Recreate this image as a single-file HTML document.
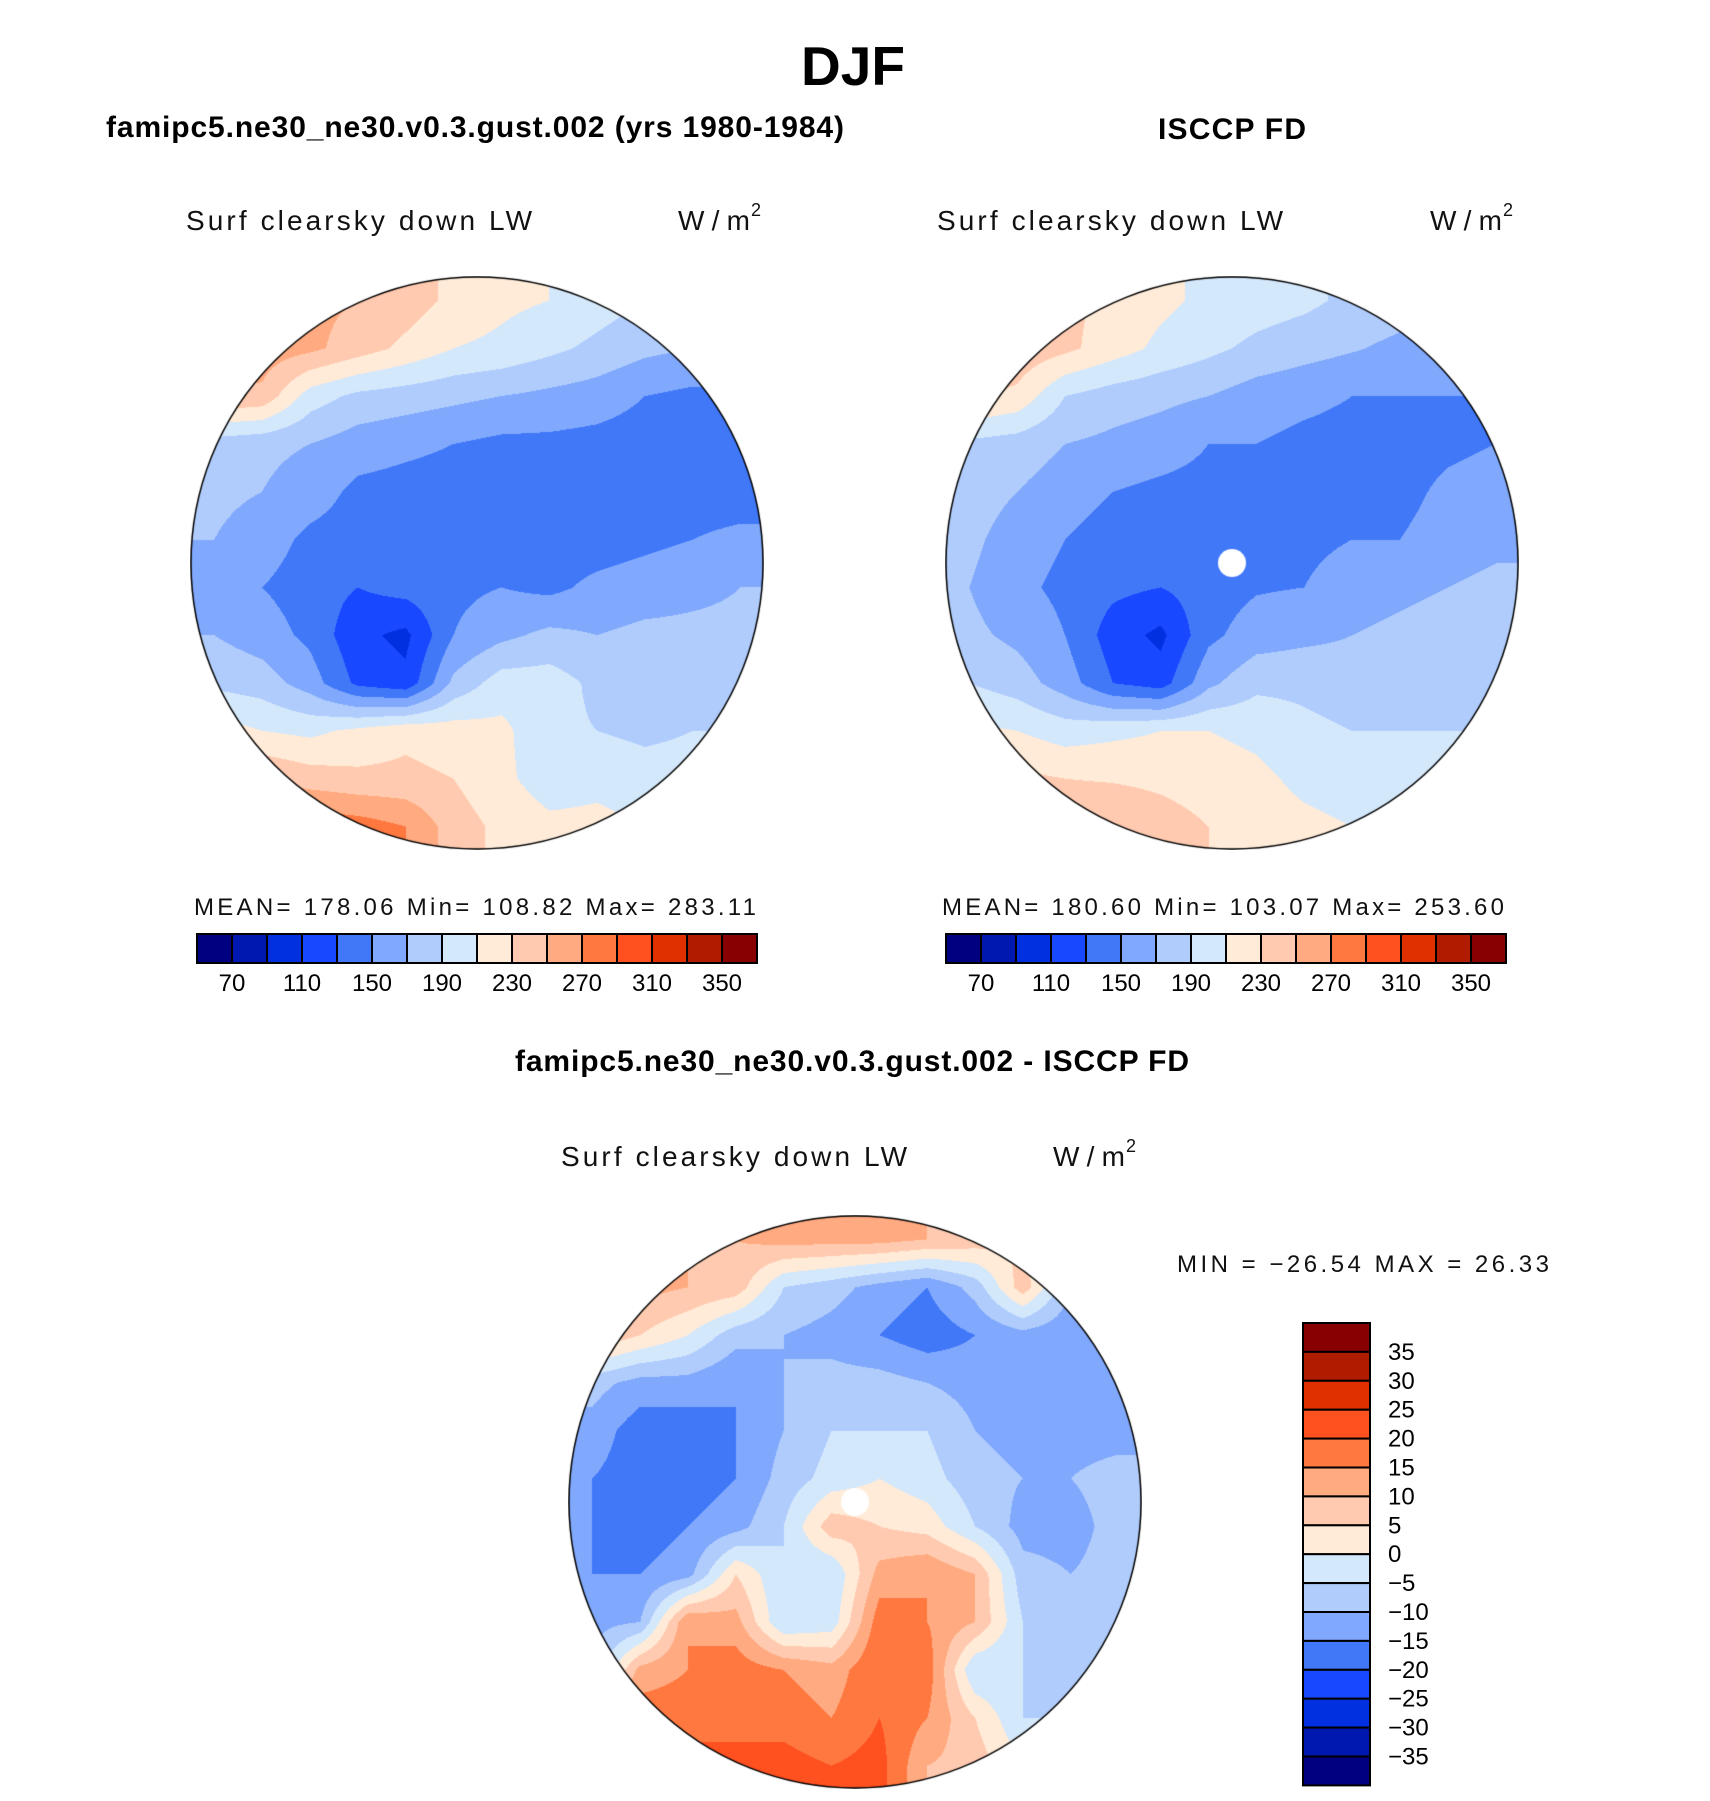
<!DOCTYPE html>
<html><head><meta charset="utf-8"><style>
html,body{margin:0;padding:0;background:#fff;}
#page{position:relative;width:1710px;height:1801px;overflow:hidden;}
canvas{position:absolute;}
svg{position:absolute;left:0;top:0;}
</style></head><body>
<div id="page">
<canvas id="mapL" width="574" height="574" style="left:190px;top:276px"></canvas>
<canvas id="mapR" width="574" height="574" style="left:945px;top:276px"></canvas>
<canvas id="mapD" width="574" height="574" style="left:568px;top:1215px"></canvas>
<svg id="ov" width="1710" height="1801" font-family="Liberation Sans, sans-serif">
<text x="853" y="85" font-size="55" font-weight="bold" text-anchor="middle">DJF</text>
<text x="106" y="137" font-size="30" font-weight="bold" textLength="738">famipc5.ne30_ne30.v0.3.gust.002 (yrs 1980-1984)</text>
<text x="1158" y="139" font-size="30" font-weight="bold" textLength="148">ISCCP FD</text>
<text x="515" y="1071" font-size="30" font-weight="bold" textLength="674">famipc5.ne30_ne30.v0.3.gust.002 - ISCCP FD</text>
<g font-size="28" fill="#111">
<text x="186" y="230" textLength="346">Surf clearsky down LW</text>
<text x="678" y="230" textLength="72">W/m</text><text x="751" y="216" font-size="18">2</text>
<text x="937" y="230" textLength="346">Surf clearsky down LW</text>
<text x="1430" y="230" textLength="72">W/m</text><text x="1503" y="216" font-size="18">2</text>
<text x="561" y="1166" textLength="346">Surf clearsky down LW</text>
<text x="1053" y="1166" textLength="72">W/m</text><text x="1126" y="1152" font-size="18">2</text>
</g>
<g font-size="24" fill="#111">
<text x="194" y="915" textLength="562">MEAN=  178.06   Min=  108.82   Max=  283.11</text>
<text x="942" y="915" textLength="562">MEAN=  180.60   Min=  103.07   Max=  253.60</text>
<text x="1177" y="1272" textLength="372">MIN  =  −26.54  MAX  =   26.33</text>
</g>
<g id="cbars"></g>
</svg>
</div>
<script>
// ---- data ----
const absLevels = [70,90,110,130,150,170,190,210,230,250,270,290,310,330,350];
const absTickLabels = ["70","110","150","190","230","270","310","350"];
const diffLevels = [-35,-30,-25,-20,-15,-10,-5,0,5,10,15,20,25,30,35];
const diffTickLabels = ["35","30","25","20","15","10","5","0","−5","−10","−15","−20","−25","−30","−35"];
const palette = ["#000080","#0018b0","#0030e0","#1848ff","#4078f8","#80a8fc","#b0ccfc","#d4e8fc","#ffebd8","#ffcab0","#ffaa80","#ff7840","#ff5020","#e03000","#b01c00","#880000"];
const modelField = [
[260,260,255,250,240,225,215,210,200,190,185,180],
[262,262,255,240,225,210,205,195,185,175,170,170],
[250,245,200,185,180,175,170,165,160,150,145,145],
[180,175,170,160,155,150,145,145,143,140,140,140],
[175,170,160,145,142,140,140,140,140,140,140,140],
[170,160,145,140,138,140,140,140,140,145,150,155],
[165,150,140,130,138,145,150,145,155,160,165,170],
[170,160,145,115,105,150,165,175,170,175,175,175],
[185,180,160,125,115,175,200,200,185,180,180,180],
[220,210,205,215,225,220,215,195,190,185,190,190],
[260,250,240,235,235,230,215,200,205,200,200,200],
[280,285,285,280,270,240,225,215,215,210,210,210]];
const obsField = [
[240,240,235,225,215,205,200,195,185,180,175,175],
[245,245,235,220,205,195,185,178,172,165,160,160],
[235,225,190,180,175,170,160,155,150,150,150,150],
[185,180,170,165,160,150,150,145,143,140,145,150],
[180,170,160,150,145,143,143,145,150,143,155,160],
[175,160,150,140,143,140,140,145,150,150,160,165],
[170,155,145,135,130,140,148,150,160,165,170,175],
[175,165,150,120,105,145,160,165,170,175,180,180],
[190,180,160,130,120,165,185,185,180,180,185,185],
[215,210,200,205,210,210,205,195,190,190,190,190],
[240,235,230,228,225,220,215,205,200,200,200,200],
[255,255,250,250,240,230,220,215,210,205,205,205]];
const diffField = [
[12,12,10,10,12,12,12,10,8,5,0,-5],
[12,12,10,8,-5,-8,-12,-15,-8,8,-10,-12],
[10,5,0,-8,-10,-12,-15,-18,-15,-12,-14,-14],
[-8,-12,-12,-15,-10,-8,-8,-10,-12,-15,-14,-14],
[-12,-18,-18,-15,-10,-5,-5,-5,-10,-12,-12,-12],
[-15,-18,-18,-15,-8,-3,0,-3,-8,-10,-10,-8],
[-15,-18,-15,-12,-5,8,5,3,-5,-12,-12,-8],
[-15,-15,-12,5,-5,-5,12,15,10,-8,-10,-8],
[-12,-10,15,12,-5,-3,18,15,10,-5,-8,-8],
[-10,12,15,18,15,12,20,18,-5,-5,-8,-8],
[15,18,18,18,18,15,20,15,5,-5,-5,-5],
[20,22,22,22,22,20,22,10,8,0,-3,-3]];

function hex(c){return [parseInt(c.substr(1,2),16),parseInt(c.substr(3,2),16),parseInt(c.substr(5,2),16)];}
const pal = palette.map(hex);
function levelIndex(v,levels){let i=0;while(i<levels.length&&v>=levels[i])i++;return i;}
function sample(f,x,y){
  const n=f.length,m=f[0].length;
  let gx=x*m-0.5,gy=y*n-0.5;
  gx=Math.max(0,Math.min(m-1,gx));gy=Math.max(0,Math.min(n-1,gy));
  const x0=Math.floor(gx),y0=Math.floor(gy),x1=Math.min(m-1,x0+1),y1=Math.min(n-1,y0+1);
  const tx=gx-x0,ty=gy-y0;
  return f[y0][x0]*(1-tx)*(1-ty)+f[y0][x1]*tx*(1-ty)+f[y1][x0]*(1-tx)*ty+f[y1][x1]*tx*ty;
}
function drawMap(id,f,levels,hole){
  const cv=document.getElementById(id),ctx=cv.getContext('2d');
  const W=cv.width,R=W/2-1;
  const img=ctx.createImageData(W,W);
  for(let y=0;y<W;y++)for(let x=0;x<W;x++){
    const dx=x-W/2+0.5,dy=y-W/2+0.5;if(dx*dx+dy*dy>R*R)continue;
    const c=pal[levelIndex(sample(f,x/W,y/W),levels)];
    const k=(y*W+x)*4;img.data[k]=c[0];img.data[k+1]=c[1];img.data[k+2]=c[2];img.data[k+3]=255;
  }
  ctx.putImageData(img,0,0);
  if(hole){ctx.fillStyle='#fff';ctx.beginPath();ctx.arc(W/2,W/2,14,0,Math.PI*2);ctx.fill();}
  ctx.strokeStyle='#000';ctx.lineWidth=1.5;ctx.beginPath();ctx.arc(W/2,W/2,R,0,Math.PI*2);ctx.stroke();
}
drawMap('mapL',modelField,absLevels,false);
drawMap('mapR',obsField,absLevels,true);
drawMap('mapD',diffField,diffLevels,true);

const NS='http://www.w3.org/2000/svg';
const g=document.getElementById('cbars');
function hbar(x0,y0,w,h,name){
  const cw=w/palette.length;
  palette.forEach((c,i)=>{const r=document.createElementNS(NS,'rect');
    r.setAttribute('x',x0+i*cw);r.setAttribute('y',y0);r.setAttribute('width',cw);r.setAttribute('height',h);
    r.setAttribute('fill',c);r.setAttribute('stroke','#000');r.setAttribute('stroke-width','2');
    
    
    g.appendChild(r);});
  absTickLabels.forEach((t,j)=>{const tx=document.createElementNS(NS,'text');
    tx.setAttribute('x',x0+(1+2*j)*cw);tx.setAttribute('y',y0+h+28);tx.setAttribute('font-size','24');
    tx.setAttribute('text-anchor','middle');tx.textContent=t;
    
    
    g.appendChild(tx);});
}
hbar(197,934,560,29,'model-colorbar');
hbar(946,934,560,29,'obs-colorbar');
(function(){const x0=1303,y0=1323,w=67,ch=28.9;
  const rev=palette.slice().reverse();
  rev.forEach((c,i)=>{const r=document.createElementNS(NS,'rect');
    r.setAttribute('x',x0);r.setAttribute('y',y0+i*ch);r.setAttribute('width',w);r.setAttribute('height',ch);
    r.setAttribute('fill',c);r.setAttribute('stroke','#000');r.setAttribute('stroke-width','2');
    
    
    g.appendChild(r);});
  diffTickLabels.forEach((t,j)=>{const tx=document.createElementNS(NS,'text');
    tx.setAttribute('x',1388);tx.setAttribute('y',y0+(j+1)*ch+8);tx.setAttribute('font-size','24');
    tx.textContent=t;
    
    
    g.appendChild(tx);});
})();
</script>
</body></html>
